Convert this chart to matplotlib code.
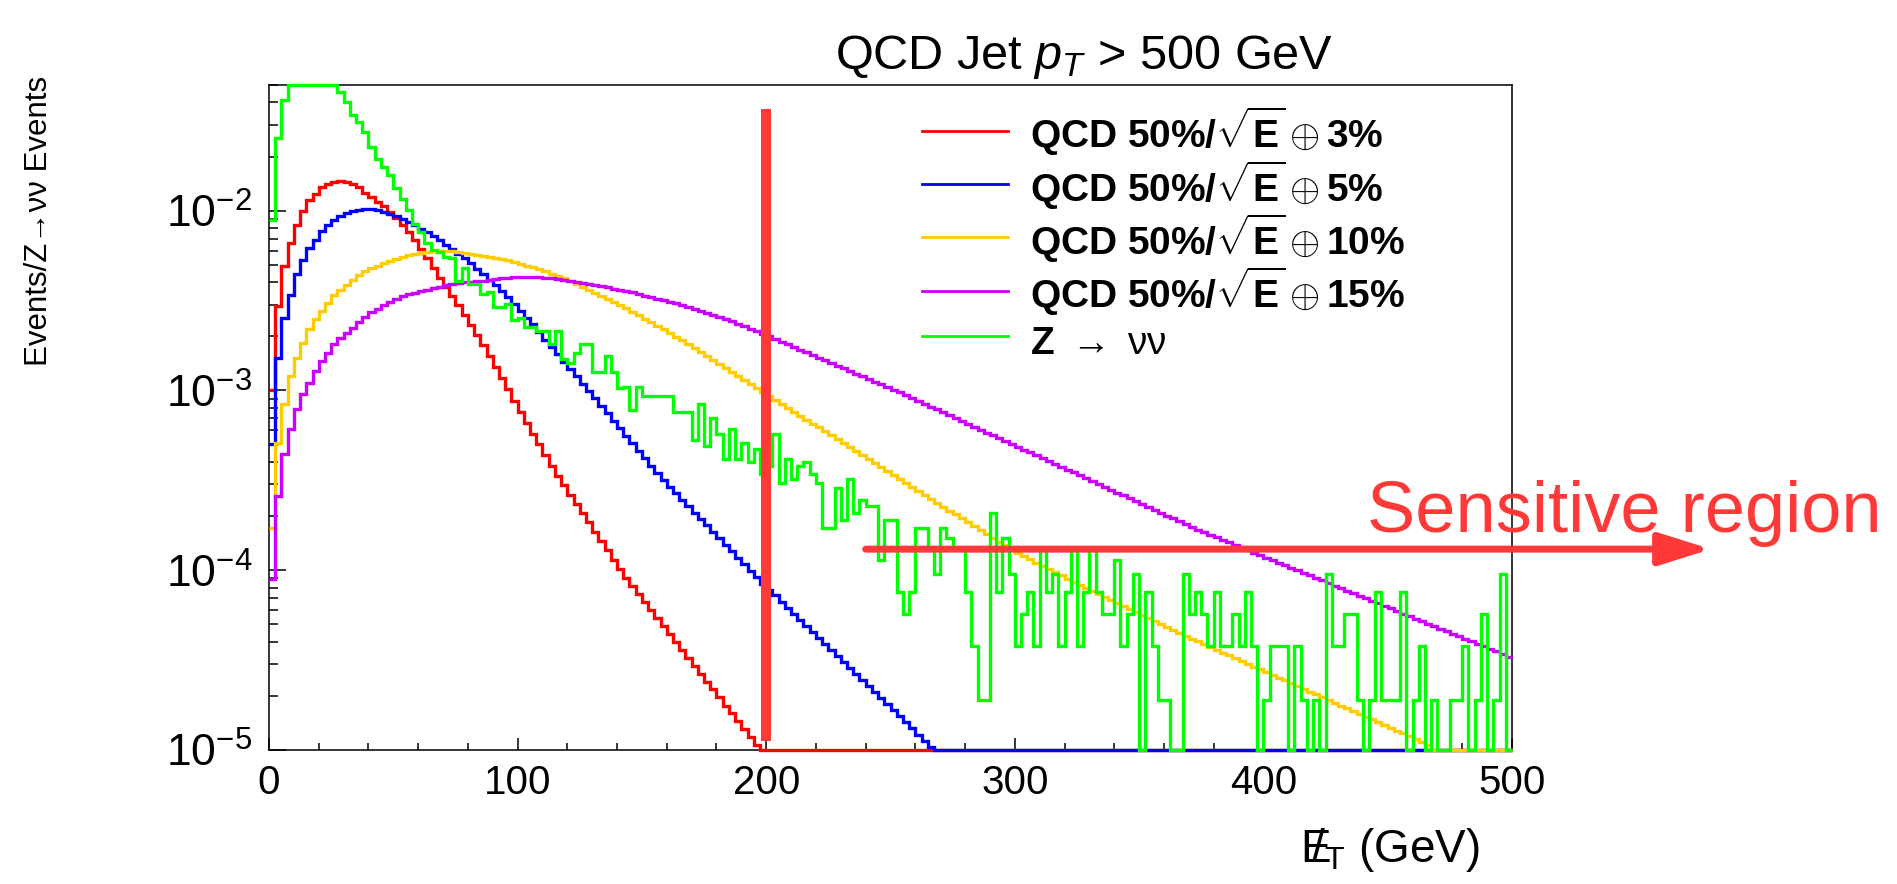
"""
Missing transverse energy for QCD jets (pT > 500 GeV) with several jet
energy resolutions, compared with Z -> nu nu.
"""

import numpy as np
import matplotlib
matplotlib.use("Agg")
import matplotlib.pyplot as plt
from matplotlib.lines import Line2D
from matplotlib.ticker import MultipleLocator, LogLocator, NullFormatter


# binning of the histograms: 200 bins of 2.5 GeV
x_min, x_max, n_bins = 0.0, 500.0, 200
y_min, y_max = 1e-5, 0.05

# bin contents (log10 of events per bin); bins that are
# not listed lie below 1e-5
qcd3_log10 = [
    -3.00, -2.53, -2.31, -2.18, -2.08, -2.00, -1.94, -1.905, -1.87, -1.854,
    -1.841, -1.837, -1.838, -1.85, -1.87, -1.90, -1.926, -1.952, -1.976, -2.007,
    -2.041, -2.078, -2.118, -2.163, -2.213, -2.265, -2.318, -2.372, -2.425, -2.476,
    -2.527, -2.58, -2.634, -2.689, -2.746, -2.806, -2.868, -2.93, -2.994, -3.059,
    -3.12, -3.18, -3.24, -3.30, -3.36, -3.419, -3.476, -3.528, -3.58, -3.632,
    -3.682, -3.733, -3.785, -3.835, -3.887, -3.941, -3.991, -4.043, -4.089, -4.133,
    -4.178, -4.222, -4.267, -4.311, -4.356, -4.398, -4.443, -4.487, -4.53, -4.576,
    -4.62, -4.663, -4.707, -4.754, -4.796, -4.841, -4.885, -4.93, -4.974,
]

qcd5_log10 = [
    -3.30, -2.818, -2.596, -2.467, -2.355, -2.272, -2.207, -2.161, -2.115, -2.078,
    -2.05, -2.031, -2.011, -2.003, -1.997, -1.993, -1.993, -1.998, -2.007, -2.018,
    -2.031, -2.044, -2.063, -2.081, -2.10, -2.119, -2.143, -2.165, -2.189, -2.211,
    -2.239, -2.263, -2.291, -2.322, -2.352, -2.383, -2.415, -2.448, -2.481, -2.519,
    -2.556, -2.596, -2.633, -2.674, -2.717, -2.759, -2.80, -2.841, -2.878, -2.92,
    -2.963, -3.004, -3.044, -3.087, -3.128, -3.17, -3.211, -3.252, -3.294, -3.335,
    -3.376, -3.418, -3.459, -3.50, -3.536, -3.572, -3.608, -3.644, -3.68, -3.715,
    -3.75, -3.786, -3.822, -3.858, -3.894, -3.93, -3.966, -4.002, -4.038, -4.074,
    -4.11, -4.14, -4.175, -4.21, -4.243, -4.276, -4.31, -4.343, -4.376, -4.41,
    -4.443, -4.476, -4.51, -4.543, -4.577, -4.61, -4.643, -4.677, -4.71, -4.744,
    -4.777, -4.81, -4.845, -4.88, -4.915, -4.95, -4.985,
]

qcd10_log10 = [
    -3.763, -3.291, -3.078, -2.92, -2.818, -2.735, -2.661, -2.605, -2.559, -2.513,
    -2.467, -2.439, -2.411, -2.383, -2.357, -2.337, -2.32, -2.306, -2.293, -2.28,
    -2.267, -2.257, -2.248, -2.239, -2.233, -2.23, -2.226, -2.225, -2.225, -2.226,
    -2.23, -2.235, -2.239, -2.244, -2.25, -2.256, -2.261, -2.269, -2.276, -2.285,
    -2.294, -2.306, -2.315, -2.326, -2.337, -2.35, -2.363, -2.376, -2.389, -2.406,
    -2.422, -2.439, -2.456, -2.472, -2.489, -2.507, -2.526, -2.544, -2.563, -2.581,
    -2.60, -2.62, -2.641, -2.661, -2.681, -2.702, -2.722, -2.744, -2.766, -2.788,
    -2.81, -2.832, -2.854, -2.876, -2.898, -2.92, -2.942, -2.964, -2.986, -3.008,
    -3.03, -3.052, -3.074, -3.096, -3.118, -3.14, -3.162, -3.184, -3.206, -3.228,
    -3.25, -3.272, -3.294, -3.316, -3.338, -3.36, -3.382, -3.404, -3.426, -3.448,
    -3.47, -3.492, -3.514, -3.536, -3.558, -3.58, -3.602, -3.624, -3.646, -3.668,
    -3.69, -3.712, -3.733, -3.755, -3.776, -3.798, -3.819, -3.841, -3.862, -3.884,
    -3.905, -3.923, -3.94, -3.958, -3.976, -3.994, -4.011, -4.029, -4.047, -4.064,
    -4.082, -4.1, -4.117, -4.134, -4.15, -4.167, -4.183, -4.2, -4.216, -4.233,
    -4.25, -4.266, -4.283, -4.299, -4.316, -4.332, -4.349, -4.365, -4.381, -4.396,
    -4.412, -4.427, -4.443, -4.458, -4.474, -4.489, -4.505, -4.52, -4.536, -4.551,
    -4.567, -4.582, -4.598, -4.613, -4.629, -4.644, -4.66, -4.675, -4.691, -4.706,
    -4.722, -4.737, -4.753, -4.768, -4.784, -4.799, -4.815, -4.83, -4.846, -4.861,
    -4.877, -4.892, -4.908, -4.923, -4.939, -4.954, -4.97,
]

qcd15_log10 = [
    -4.05, -3.587, -3.355, -3.216, -3.105, -3.022, -2.957, -2.892, -2.837, -2.791,
    -2.744, -2.707, -2.68, -2.652, -2.618, -2.59, -2.566, -2.545, -2.526, -2.507,
    -2.49, -2.477, -2.465, -2.456, -2.448, -2.439, -2.431, -2.422, -2.413, -2.407,
    -2.403, -2.399, -2.395, -2.392, -2.389, -2.385, -2.379, -2.374, -2.372, -2.37,
    -2.369, -2.369, -2.369, -2.37, -2.372, -2.375, -2.379, -2.384, -2.389, -2.395,
    -2.4, -2.406, -2.413, -2.42, -2.426, -2.433, -2.44, -2.448, -2.455, -2.463,
    -2.472, -2.481, -2.489, -2.498, -2.507, -2.516, -2.525, -2.536, -2.547, -2.558,
    -2.569, -2.58, -2.592, -2.604, -2.616, -2.629, -2.642, -2.656, -2.67, -2.684,
    -2.699, -2.714, -2.729, -2.743, -2.758, -2.773, -2.788, -2.803, -2.817, -2.832,
    -2.847, -2.862, -2.877, -2.891, -2.906, -2.921, -2.936, -2.951, -2.965, -2.98,
    -2.995, -3.011, -3.027, -3.043, -3.059, -3.075, -3.09, -3.106, -3.122, -3.138,
    -3.154, -3.17, -3.186, -3.202, -3.218, -3.234, -3.249, -3.265, -3.281, -3.297,
    -3.313, -3.329, -3.345, -3.361, -3.377, -3.393, -3.408, -3.424, -3.44, -3.456,
    -3.472, -3.488, -3.504, -3.52, -3.536, -3.552, -3.568, -3.584, -3.6, -3.616,
    -3.632, -3.648, -3.664, -3.68, -3.696, -3.712, -3.728, -3.744, -3.76, -3.774,
    -3.788, -3.803, -3.817, -3.831, -3.845, -3.859, -3.873, -3.888, -3.902, -3.916,
    -3.93, -3.944, -3.959, -3.973, -3.987, -4.001, -4.015, -4.029, -4.043, -4.057,
    -4.071, -4.085, -4.1, -4.114, -4.128, -4.142, -4.156, -4.17, -4.184, -4.198,
    -4.212, -4.227, -4.241, -4.255, -4.269, -4.283, -4.297, -4.311, -4.325, -4.339,
    -4.354, -4.368, -4.382, -4.396, -4.41, -4.424, -4.438, -4.452, -4.466, -4.48,
]

# Z -> nu nu: raw MC events per bin, each event carries the same weight
znunu_events = [
    467, 1328, 2169, 2900, 3200, 3350, 3400, 3300, 3150, 2950,
    2700, 2410, 2123, 1790, 1646, 1446, 1195, 1026, 923, 831,
    703, 615, 533, 446, 400, 349, 318, 308, 292, 287,
    215, 251, 205, 205, 180, 185, 154, 154, 159, 130,
    133, 119, 119, 112, 113, 96, 113, 79, 75, 85,
    96, 96, 67, 67, 82, 67, 54, 55, 41, 55,
    49, 49, 49, 49, 49, 40, 40, 40, 28, 44,
    26, 37, 30, 22, 32, 22, 27, 21, 25, 18,
    20, 30, 16, 22, 17, 20, 21, 18, 16, 9,
    9, 15, 10, 17, 11, 13, 12, 12, 6, 10,
    10, 4, 3, 4, 9, 9, 7, 5, 9, 8,
    7, 7, 4, 2, 1, 1, 11, 4, 8, 5,
    2, 3, 4, 2, 7, 4, 5, 2, 4, 7,
    2, 4, 7, 4, 3, 3, 6, 2, 3, 5,
    0, 4, 2, 1, 1, 0, 0, 5, 3, 4,
    3, 2, 4, 2, 2, 3, 2, 4, 2, 0,
    1, 2, 2, 2, 0, 2, 1, 0, 1, 0,
    5, 2, 2, 3, 3, 1, 0, 1, 4, 1,
    1, 1, 4, 0, 1, 2, 0, 1, 0, 0,
    1, 1, 2, 0, 1, 3, 0, 1, 5, 0,
]
znunu_weight = 1.9e-5

series_labels = [
    r"QCD 50%/$\sqrt{\mathbf{E}}\oplus$3%",
    r"QCD 50%/$\sqrt{\mathbf{E}}\oplus$5%",
    r"QCD 50%/$\sqrt{\mathbf{E}}\oplus$10%",
    r"QCD 50%/$\sqrt{\mathbf{E}}\oplus$15%",
    r"Z $\rightarrow$ $\mathrm{\nu\nu}$",
]
series_colors = ["#ff0000", "#0000ff", "#ffcc00", "#cc00ff", "#00ff00"]

# slide annotations
cut_x = 200
cut_y = (1.12e-5, 0.037)
arrow_x = (240, 580)
arrow_y = 1.31e-4
slide_red = "#ff3838"


def to_bins(values):
    """Pad a list of bin contents to the full binning and clip it to the frame."""
    full = np.zeros(n_bins)
    full[:len(values)] = values
    return np.clip(full, y_min, y_max)


def draw_chart():
    plt.rcParams["font.family"] = ["Liberation Sans", "DejaVu Sans"]
    plt.rcParams["mathtext.fontset"] = "custom"
    plt.rcParams["mathtext.rm"] = "Liberation Sans"
    plt.rcParams["mathtext.it"] = "Liberation Sans:italic"
    plt.rcParams["mathtext.bf"] = "Liberation Sans:bold"

    fig = plt.figure(figsize=(18.97, 8.84), dpi=100)
    ax = fig.add_axes([269 / 1897, 1 - 750 / 884, 1243 / 1897, 665 / 884])

    edges = np.linspace(x_min, x_max, n_bins + 1)
    contents = [
        10 ** np.array(qcd3_log10),
        10 ** np.array(qcd5_log10),
        10 ** np.array(qcd10_log10),
        10 ** np.array(qcd15_log10),
        np.array(znunu_events) * znunu_weight,
    ]
    for values, color in zip(contents, series_colors):
        ax.stairs(to_bins(values), edges, baseline=None, color=color,
                  lw=2.4, zorder=3, clip_on=False)

    ax.set_yscale("log")
    ax.set_xlim(x_min, x_max)
    ax.set_ylim(y_min, y_max)

    ax.xaxis.set_major_locator(MultipleLocator(100))
    ax.xaxis.set_minor_locator(MultipleLocator(20))
    ax.yaxis.set_major_locator(LogLocator(base=10, numticks=10))
    ax.yaxis.set_minor_locator(LogLocator(base=10, subs=np.arange(2, 10), numticks=20))
    ax.yaxis.set_minor_formatter(NullFormatter())
    ax.tick_params(which="both", direction="in", top=False, right=False, width=1.1)
    ax.tick_params(axis="x", which="major", length=9, pad=10, labelsize=29)
    ax.tick_params(axis="x", which="minor", length=5)
    ax.tick_params(axis="y", which="major", length=12, pad=12, labelsize=32)
    ax.tick_params(axis="y", which="minor", length=6.5)
    for spine in ax.spines.values():
        spine.set_linewidth(1.1)

    handles = [Line2D([], [], color=c, lw=2) for c in series_colors]
    ax.legend(handles, series_labels, loc="upper left",
              bbox_to_anchor=((922 - 269) / 1243, (750 - 105) / 665),
              frameon=False, borderpad=0, borderaxespad=0,
              handlelength=2.2, handleheight=1.4, handletextpad=0.57,
              labelspacing=0.0, prop={"size": 28, "weight": "bold"})

    # slide markup: cut line, arrow and label
    ax.plot([cut_x, cut_x], cut_y, color=slide_red, lw=7.2,
            solid_capstyle="butt", zorder=5)
    ax.annotate("", xy=(arrow_x[1], arrow_y), xytext=(arrow_x[0], arrow_y),
                arrowprops=dict(arrowstyle="-|>,head_length=1.05,head_width=0.33",
                                color=slide_red, lw=5, mutation_scale=30,
                                shrinkA=0, shrinkB=0),
                annotation_clip=False, zorder=5)
    fig.text(1367 / 1897, 1 - 532 / 884, "Sensitive region", color=slide_red,
             fontsize=52, ha="left", va="baseline")

    fig.text(835 / 1897, 1 - 69 / 884, r"QCD Jet $p_{T}$ > 500 GeV",
             fontsize=35, ha="left", va="baseline")
    fig.text(39 / 1897, 1 - 221 / 884, "Events/Z\u2192\u03bd\u03bd Events",
             fontsize=22.5, rotation=90, ha="center", va="center")
    fig.text(1300 / 1897, 1 - 862 / 884,
             r"$\mathrm{E}\!\!\!/_{\mathrm{T}}$ (GeV)",
             fontsize=33, ha="left", va="baseline")

    fig.savefig("out.png", dpi=100)


def main():
    draw_chart()


if __name__ == "__main__":
    main()
